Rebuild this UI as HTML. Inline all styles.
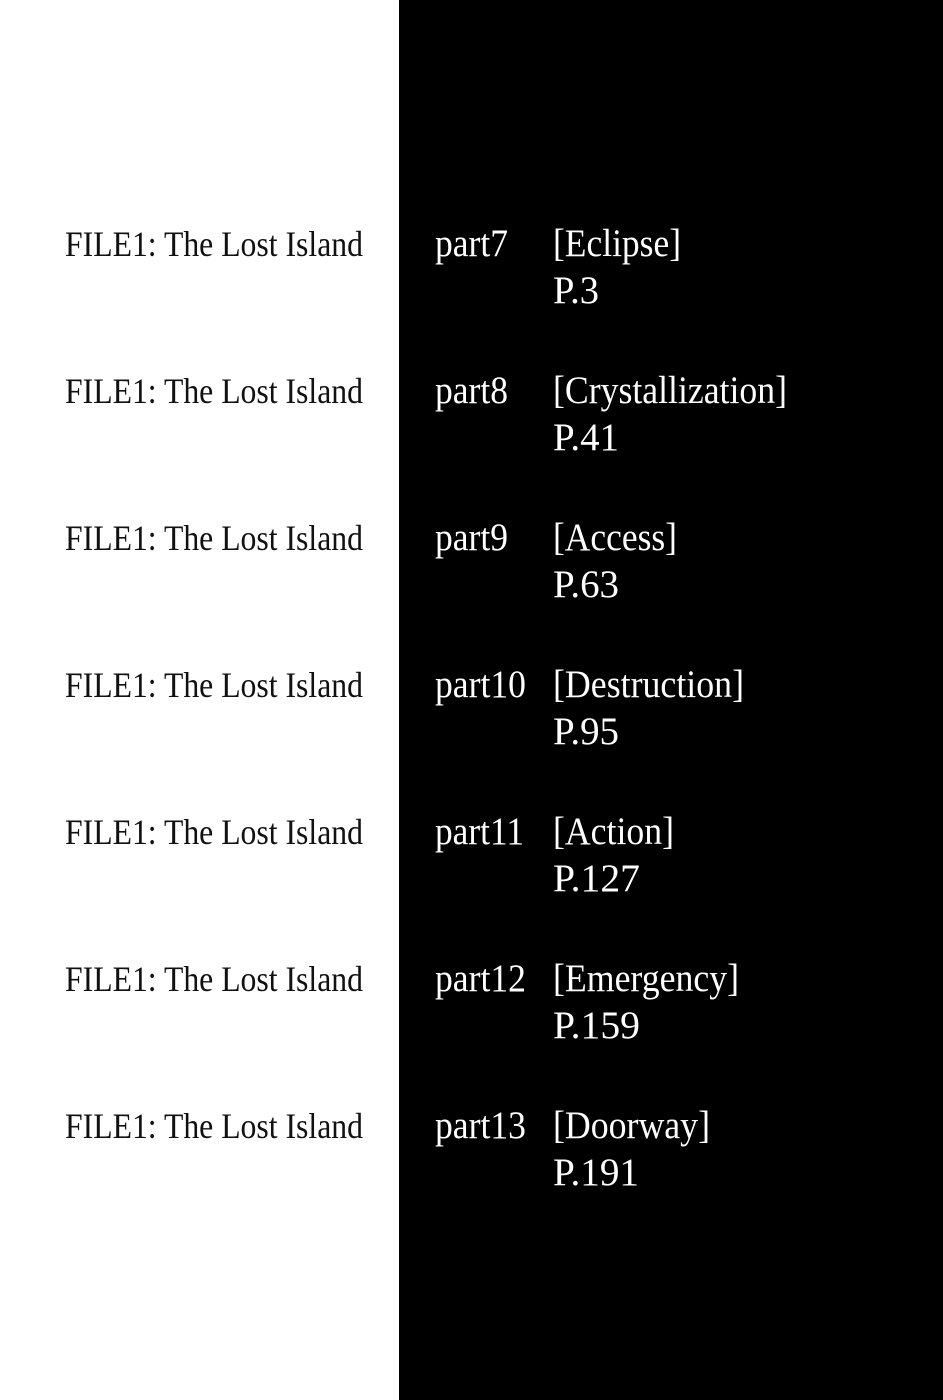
<!DOCTYPE html>
<html><head><meta charset="utf-8"><style>
html,body{margin:0;padding:0;background:#fff;}
svg{display:block;}
text{font-family:"Liberation Serif",serif;}
</style></head><body>
<svg width="943" height="1400" xmlns="http://www.w3.org/2000/svg">
<rect x="0" y="0" width="943" height="1400" fill="#fff"/>
<rect x="399" y="0" width="544" height="1400" fill="#000"/>
<g fill="#111" font-size="36">
<text x="65" y="256" textLength="298" lengthAdjust="spacingAndGlyphs">FILE1: The Lost Island</text>
<text x="65" y="403" textLength="298" lengthAdjust="spacingAndGlyphs">FILE1: The Lost Island</text>
<text x="65" y="550" textLength="298" lengthAdjust="spacingAndGlyphs">FILE1: The Lost Island</text>
<text x="65" y="697" textLength="298" lengthAdjust="spacingAndGlyphs">FILE1: The Lost Island</text>
<text x="65" y="844" textLength="298" lengthAdjust="spacingAndGlyphs">FILE1: The Lost Island</text>
<text x="65" y="991" textLength="298" lengthAdjust="spacingAndGlyphs">FILE1: The Lost Island</text>
<text x="65" y="1138" textLength="298" lengthAdjust="spacingAndGlyphs">FILE1: The Lost Island</text>
</g>
<g fill="#fff" font-size="39">
<g transform="translate(0,0)">
<text x="435" y="256" textLength="73" lengthAdjust="spacingAndGlyphs">part7</text><text x="553" y="256" textLength="128" lengthAdjust="spacingAndGlyphs">[Eclipse]</text><text x="553" y="303" textLength="46" lengthAdjust="spacingAndGlyphs">P.3</text>
<text x="435" y="403" textLength="73" lengthAdjust="spacingAndGlyphs">part8</text><text x="553" y="403" textLength="234" lengthAdjust="spacingAndGlyphs">[Crystallization]</text><text x="553" y="450" textLength="66" lengthAdjust="spacingAndGlyphs">P.41</text>
<text x="435" y="550" textLength="73" lengthAdjust="spacingAndGlyphs">part9</text><text x="553" y="550" textLength="124" lengthAdjust="spacingAndGlyphs">[Access]</text><text x="553" y="597" textLength="66" lengthAdjust="spacingAndGlyphs">P.63</text>
<text x="435" y="697" textLength="91" lengthAdjust="spacingAndGlyphs">part10</text><text x="553" y="697" textLength="191" lengthAdjust="spacingAndGlyphs">[Destruction]</text><text x="553" y="744" textLength="66" lengthAdjust="spacingAndGlyphs">P.95</text>
<text x="435" y="844" textLength="89" lengthAdjust="spacingAndGlyphs">part11</text><text x="553" y="844" textLength="121" lengthAdjust="spacingAndGlyphs">[Action]</text><text x="553" y="891" textLength="87" lengthAdjust="spacingAndGlyphs">P.127</text>
<text x="435" y="991" textLength="91" lengthAdjust="spacingAndGlyphs">part12</text><text x="553" y="991" textLength="186" lengthAdjust="spacingAndGlyphs">[Emergency]</text><text x="553" y="1038" textLength="87" lengthAdjust="spacingAndGlyphs">P.159</text>
<text x="435" y="1138" textLength="91" lengthAdjust="spacingAndGlyphs">part13</text><text x="553" y="1138" textLength="157" lengthAdjust="spacingAndGlyphs">[Doorway]</text><text x="553" y="1185" textLength="86" lengthAdjust="spacingAndGlyphs">P.191</text>
</g>
</g>
</svg>
</body></html>
